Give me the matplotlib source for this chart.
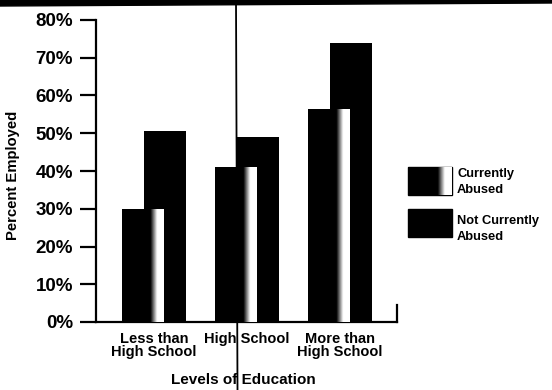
import numpy as np
import matplotlib.pyplot as plt
from matplotlib.patches import Rectangle, Polygon
from matplotlib.lines import Line2D

plt.rcParams['font.family'] = ['Liberation Sans', 'DejaVu Sans']

# data
categories = ['Less than\nHigh School', 'High School', 'More than\nHigh School']
currently_abused = [30, 41, 56.5]
not_currently_abused = [50.5, 49, 74]
series_labels = ['Currently\nAbused', 'Not Currently\nAbused']
y_ticks = [0, 10, 20, 30, 40, 50, 60, 70, 80]

W, H = 552, 390
fig = plt.figure(figsize=(W / 100, H / 100), dpi=100)
ax = fig.add_axes([96 / W, 68 / H, 301 / W, 302 / H])

# horizontal fade used for the "currently abused" fill (black -> white on the right)
grad = np.interp(np.linspace(0, 1, 200), [0, 0.68, 0.84, 1], [0, 0, 1, 1])[None, :]


def fade_fill(axis, rect):
    x0, y0 = rect.get_x(), rect.get_y()
    w, h = rect.get_width(), rect.get_height()
    im = axis.imshow(grad, cmap='gray', vmin=0, vmax=1, aspect='auto',
                     extent=(x0, x0 + w, y0, y0 + h), zorder=rect.get_zorder() + 0.1,
                     interpolation='bilinear')
    im.set_clip_path(rect)


x = np.arange(len(categories))
width = 0.45
off = 0.12
ax.bar(x + off, not_currently_abused, width, color='black', zorder=2)
bars = ax.bar(x - off, currently_abused, width, color='black', zorder=3)
for b in bars:
    fade_fill(ax, b)

ax.set_xlim(-0.624, 2.613)
ax.set_ylim(0, 80)

for s in ['top', 'right']:
    ax.spines[s].set_visible(False)
for s in ['left', 'bottom']:
    ax.spines[s].set_linewidth(1.6)

ax.set_yticks(y_ticks)
ax.set_yticklabels([f'{v}%' for v in y_ticks], fontsize=13.5, fontweight='bold')
ax.tick_params(axis='y', length=11.5, width=1.6, pad=5)
ax.set_xticks(x)
ax.set_xticklabels(categories, fontsize=10.5, fontweight='bold', linespacing=0.95)
ax.tick_params(axis='x', length=0, pad=7)
# small closing tick at the right end of the x axis
ax.plot([1, 1], [0, 0.055], transform=ax.transAxes, color='black', lw=1.6, clip_on=False)

fig.text(13 / W, 1 - 175 / H, 'Percent Employed', rotation=90, ha='center', va='center',
         fontsize=10.7, fontweight='bold')
fig.text(243 / W, 10 / H, 'Levels of Education', ha='center', va='center', fontsize=11,
         fontweight='bold')

# legend drawn by hand
lax = fig.add_axes([0, 0, 1, 1], facecolor='none')
lax.set_xlim(0, W)
lax.set_ylim(H, 0)
lax.axis('off')
r1 = Rectangle((408, 167), 44, 28, color='black')
lax.add_patch(r1)
fade_fill(lax, r1)
r2 = Rectangle((408, 209), 44, 28, color='black')
lax.add_patch(r2)
lax.text(457, 182, series_labels[0], fontsize=9.3, fontweight='bold', va='center',
         linespacing=1.35)
lax.text(457, 229, series_labels[1], fontsize=9.3, fontweight='bold', va='center',
         linespacing=1.35)

# scan artefacts: dark strip along the top and fold line
lax.add_patch(Polygon([[0, 0], [W, 0], [W, 3], [0, 6]], color='black'))
lax.add_line(Line2D([236, 237.5], [0, H], color='black', lw=1.3))

fig.savefig('out.png', dpi=100)
